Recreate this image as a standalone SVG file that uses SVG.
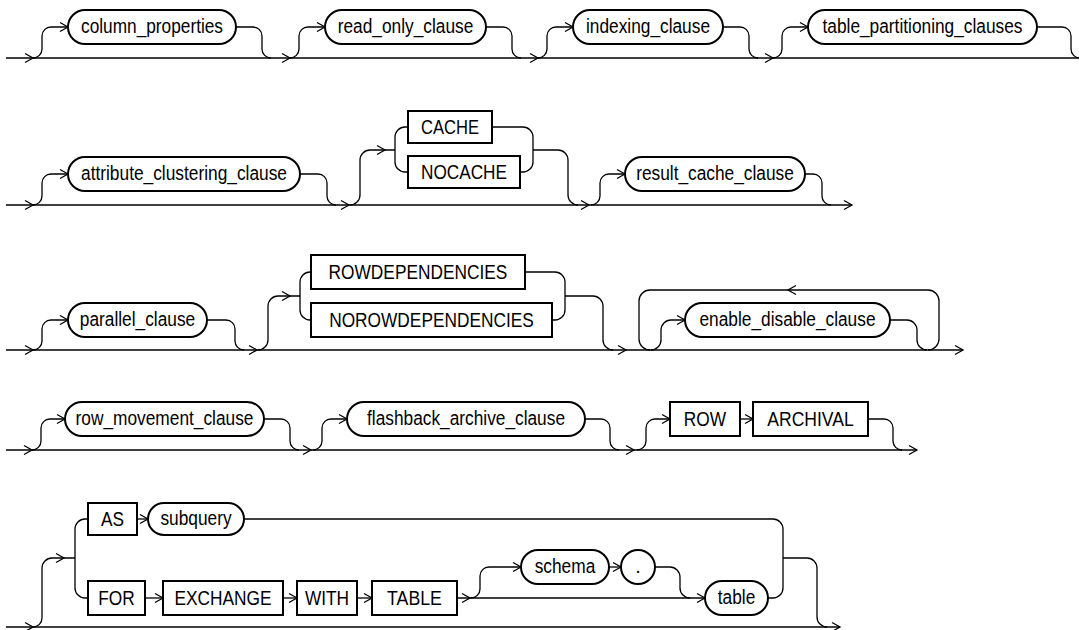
<svg xmlns="http://www.w3.org/2000/svg" xmlns:xlink="http://www.w3.org/1999/xlink" width="1079" height="630" viewBox="0 0 1079 630">
<style>
.n{fill:#fff;stroke:#000;stroke-width:2}
.c path,.c use{fill:none;stroke:#000;stroke-width:1.3}
text{font-family:"Liberation Sans",Arial,sans-serif;font-size:20px;text-anchor:middle;fill:#000}
</style>
<defs>
<path id="ar" d="M-8,-4.5 L0,0 L-8,4.5" fill="none" stroke="#000" stroke-width="1.3"/>
<path id="al" d="M8,-4.5 L0,0 L8,4.5" fill="none" stroke="#000" stroke-width="1.3"/>
</defs>
<rect width="1079" height="630" fill="#fff"/>
<g class="c" id="connectors">
<!-- row 1 -->
<path d="M6,58 H1079"/>
<path d="M33,58 A9,9 0 0 0 42,49 V36 A9,9 0 0 1 51,27 H68"/>
<path d="M236,27 H253 A9,9 0 0 1 262,36 V49 A9,9 0 0 0 271,58"/>
<path d="M290,58 A9,9 0 0 0 299,49 V36 A9,9 0 0 1 308,27 H325"/>
<path d="M486,27 H503 A9,9 0 0 1 512,36 V49 A9,9 0 0 0 521,58"/>
<path d="M538,58 A9,9 0 0 0 547,49 V36 A9,9 0 0 1 556,27 H573"/>
<path d="M723,27 H740 A9,9 0 0 1 749,36 V49 A9,9 0 0 0 758,58"/>
<path d="M773,58 A9,9 0 0 0 782,49 V36 A9,9 0 0 1 791,27 H808"/>
<path d="M1037,27 H1062 A9,9 0 0 1 1071,36 V49 A9,9 0 0 0 1080,58"/>
<use href="#ar" x="33" y="58"/><use href="#ar" x="68" y="27"/>
<use href="#ar" x="290" y="58"/><use href="#ar" x="325" y="27"/>
<use href="#ar" x="538" y="58"/><use href="#ar" x="573" y="27"/>
<use href="#ar" x="773" y="58"/><use href="#ar" x="808" y="27"/>
<!-- row 2 -->
<path d="M6,205 H852"/>
<path d="M33,205 A9,9 0 0 0 42,196 V183 A9,9 0 0 1 51,174 H68"/>
<path d="M300,174 H318 A9,9 0 0 1 327,183 V196 A9,9 0 0 0 336,205"/>
<path d="M350,205 A10,10 0 0 0 360,195 V160 A10,10 0 0 1 370,150 H395"/>
<path d="M408,127 H405 A10,10 0 0 0 395,137 V162 A10,10 0 0 0 405,172 H408"/>
<path d="M492,127 H523 A10,10 0 0 1 533,137 V162 A10,10 0 0 1 523,172 H520"/>
<path d="M533,150 H558 A10,10 0 0 1 568,160 V195 A10,10 0 0 0 578,205"/>
<path d="M591,205 A9,9 0 0 0 600,196 V183 A9,9 0 0 1 609,174 H625"/>
<path d="M805,174 H813 A9,9 0 0 1 822,183 V196 A9,9 0 0 0 831,205"/>
<use href="#ar" x="33" y="205"/><use href="#ar" x="68" y="174"/>
<use href="#ar" x="349" y="205"/><use href="#ar" x="385" y="150"/>
<use href="#ar" x="589" y="205"/><use href="#ar" x="625" y="174"/>
<use href="#ar" x="852" y="205"/>
<!-- row 3 -->
<path d="M6,350 H963"/>
<path d="M33,350 A9,9 0 0 0 42,341 V329 A9,9 0 0 1 51,320 H68"/>
<path d="M207,320 H226 A9,9 0 0 1 235,329 V341 A9,9 0 0 0 244,350"/>
<path d="M258,350 A10,10 0 0 0 268,340 V306 A10,10 0 0 1 278,296 H300"/>
<path d="M311,272 H310 A10,10 0 0 0 300,282 V310 A10,10 0 0 0 310,320 H311"/>
<path d="M525,272 H555 A10,10 0 0 1 565,282 V310 A10,10 0 0 1 555,320 H552"/>
<path d="M565,296 H593 A10,10 0 0 1 603,306 V340 A10,10 0 0 0 613,350"/>
<path d="M928,350 A11,11 0 0 0 939,339 V301 A11,11 0 0 0 928,290 H650 A11,11 0 0 0 639,301 V339 A11,11 0 0 0 650,350"/>
<path d="M651,350 A10,10 0 0 0 661,340 V330 A10,10 0 0 1 671,320 H685"/>
<path d="M890,320 H907 A10,10 0 0 1 917,330 V340 A10,10 0 0 0 927,350"/>
<use href="#ar" x="33" y="350"/><use href="#ar" x="68" y="320"/>
<use href="#ar" x="257" y="350"/><use href="#ar" x="290" y="296"/>
<use href="#ar" x="626" y="350"/><use href="#ar" x="685" y="320"/>
<use href="#al" x="788" y="290"/>
<use href="#ar" x="963" y="350"/>
<!-- row 4 -->
<path d="M6,450 H917"/>
<path d="M32,450 A9,9 0 0 0 41,441 V428 A9,9 0 0 1 50,419 H65"/>
<path d="M264,419 H281 A9,9 0 0 1 290,428 V441 A9,9 0 0 0 299,450"/>
<path d="M313,450 A9,9 0 0 0 322,441 V428 A9,9 0 0 1 331,419 H347"/>
<path d="M585,419 H601 A9,9 0 0 1 610,428 V441 A9,9 0 0 0 619,450"/>
<path d="M637,450 A9,9 0 0 0 646,441 V428 A9,9 0 0 1 655,419 H670"/>
<path d="M740,419 H753"/>
<path d="M868,419 H884 A9,9 0 0 1 893,428 V441 A9,9 0 0 0 902,450"/>
<use href="#ar" x="32" y="450"/><use href="#ar" x="65" y="419"/>
<use href="#ar" x="311" y="450"/><use href="#ar" x="347" y="419"/>
<use href="#ar" x="634" y="450"/><use href="#ar" x="670" y="419"/>
<use href="#ar" x="753" y="419"/>
<use href="#ar" x="917" y="450"/>
<!-- row 5 -->
<path d="M6,627 H840"/>
<path d="M33,627 A9,9 0 0 0 42,618 V568 A10,10 0 0 1 52,558 H75"/>
<path d="M88,519 H85 A10,10 0 0 0 75,529 V588 A10,10 0 0 0 85,598 H88"/>
<path d="M137,519 H148"/>
<path d="M244,519 H773 A10,10 0 0 1 783,529 V588 A10,10 0 0 1 773,598 H768"/>
<path d="M783,558 H807 A10,10 0 0 1 817,568 V617 A10,10 0 0 0 827,627"/>
<path d="M145,598 H163"/>
<path d="M283,598 H297"/>
<path d="M357,598 H372"/>
<path d="M457,598 H705"/>
<path d="M471,598 A9,9 0 0 0 480,589 V576 A9,9 0 0 1 489,567 H521"/>
<path d="M609,567 H621"/>
<path d="M655,567 H670 A10,10 0 0 1 680,577 V588 A10,10 0 0 0 690,598"/>
<use href="#ar" x="33" y="627"/><use href="#ar" x="64" y="558"/>
<use href="#ar" x="148" y="519"/>
<use href="#ar" x="163" y="598"/><use href="#ar" x="297" y="598"/><use href="#ar" x="372" y="598"/>
<use href="#ar" x="470" y="598"/><use href="#ar" x="521" y="567"/>
<use href="#ar" x="621" y="567"/><use href="#ar" x="705" y="598"/>
<use href="#ar" x="840" y="627"/>
</g>
<!-- row 1 nodes -->
<g id="column_properties"><rect class="n" x="68" y="10" width="168" height="34" rx="17"/><text x="152" y="33" textLength="142" lengthAdjust="spacingAndGlyphs">column_properties</text></g>
<g id="read_only_clause"><rect class="n" x="325" y="10" width="161" height="34" rx="17"/><text x="405.5" y="33" textLength="135.6" lengthAdjust="spacingAndGlyphs">read_only_clause</text></g>
<g id="indexing_clause"><rect class="n" x="573" y="10" width="150" height="34" rx="17"/><text x="648" y="33" textLength="124" lengthAdjust="spacingAndGlyphs">indexing_clause</text></g>
<g id="table_partitioning_clauses"><rect class="n" x="808" y="10" width="229" height="34" rx="17"/><text x="922.5" y="33" textLength="200" lengthAdjust="spacingAndGlyphs">table_partitioning_clauses</text></g>
<!-- row 2 nodes -->
<g id="attribute_clustering_clause"><rect class="n" x="68" y="157" width="232" height="34" rx="17"/><text x="184" y="180" textLength="206" lengthAdjust="spacingAndGlyphs">attribute_clustering_clause</text></g>
<g id="CACHE"><rect class="n" x="408" y="111" width="84" height="32"/><text x="450" y="134" textLength="58" lengthAdjust="spacingAndGlyphs">CACHE</text></g>
<g id="NOCACHE"><rect class="n" x="408" y="156" width="112" height="32"/><text x="464" y="179" textLength="86" lengthAdjust="spacingAndGlyphs">NOCACHE</text></g>
<g id="result_cache_clause"><rect class="n" x="625" y="157" width="180" height="34" rx="17"/><text x="715" y="180" textLength="157.7" lengthAdjust="spacingAndGlyphs">result_cache_clause</text></g>
<!-- row 3 nodes -->
<g id="parallel_clause"><rect class="n" x="68" y="303" width="139" height="34" rx="17"/><text x="137.5" y="326" textLength="115.4" lengthAdjust="spacingAndGlyphs">parallel_clause</text></g>
<g id="ROWDEPENDENCIES"><rect class="n" x="311" y="255" width="214" height="34"/><text x="418" y="279" textLength="178.8" lengthAdjust="spacingAndGlyphs">ROWDEPENDENCIES</text></g>
<g id="NOROWDEPENDENCIES"><rect class="n" x="311" y="303" width="241" height="34"/><text x="431.5" y="327" textLength="204.7" lengthAdjust="spacingAndGlyphs">NOROWDEPENDENCIES</text></g>
<g id="enable_disable_clause"><rect class="n" x="685" y="303" width="205" height="34" rx="17"/><text x="787.5" y="326" textLength="176" lengthAdjust="spacingAndGlyphs">enable_disable_clause</text></g>
<!-- row 4 nodes -->
<g id="row_movement_clause"><rect class="n" x="65" y="402" width="199" height="34" rx="17"/><text x="164.5" y="425" textLength="177.9" lengthAdjust="spacingAndGlyphs">row_movement_clause</text></g>
<g id="flashback_archive_clause"><rect class="n" x="347" y="402" width="238" height="34" rx="17"/><text x="466" y="425" textLength="198" lengthAdjust="spacingAndGlyphs">flashback_archive_clause</text></g>
<g id="ROW"><rect class="n" x="670" y="402" width="70" height="34"/><text x="705" y="426" textLength="42.3" lengthAdjust="spacingAndGlyphs">ROW</text></g>
<g id="ARCHIVAL"><rect class="n" x="753" y="402" width="115" height="34"/><text x="810.5" y="426" textLength="86.5" lengthAdjust="spacingAndGlyphs">ARCHIVAL</text></g>
<!-- row 5 nodes -->
<g id="AS"><rect class="n" x="88" y="503" width="49" height="32"/><text x="112.5" y="526" textLength="23" lengthAdjust="spacingAndGlyphs">AS</text></g>
<g id="subquery"><rect class="n" x="148" y="503" width="96" height="32" rx="16"/><text x="196" y="525" textLength="71.2" lengthAdjust="spacingAndGlyphs">subquery</text></g>
<g id="FOR"><rect class="n" x="88" y="581" width="57" height="34"/><text x="116.5" y="605" textLength="36.5" lengthAdjust="spacingAndGlyphs">FOR</text></g>
<g id="EXCHANGE"><rect class="n" x="163" y="581" width="120" height="34"/><text x="223" y="605" textLength="97.1" lengthAdjust="spacingAndGlyphs">EXCHANGE</text></g>
<g id="WITH"><rect class="n" x="297" y="581" width="60" height="34"/><text x="327" y="605" textLength="44.2" lengthAdjust="spacingAndGlyphs">WITH</text></g>
<g id="TABLE"><rect class="n" x="372" y="581" width="85" height="34"/><text x="414.5" y="605" textLength="54.8" lengthAdjust="spacingAndGlyphs">TABLE</text></g>
<g id="schema"><rect class="n" x="521" y="550" width="88" height="34" rx="17"/><text x="565" y="573" textLength="60.6" lengthAdjust="spacingAndGlyphs">schema</text></g>
<g id="dot"><rect class="n" x="621" y="550" width="34" height="34" rx="17"/><text x="638" y="573">.</text></g>
<g id="table"><rect class="n" x="705" y="581" width="63" height="34" rx="17"/><text x="736.5" y="604" textLength="37.5" lengthAdjust="spacingAndGlyphs">table</text></g>
</svg>
